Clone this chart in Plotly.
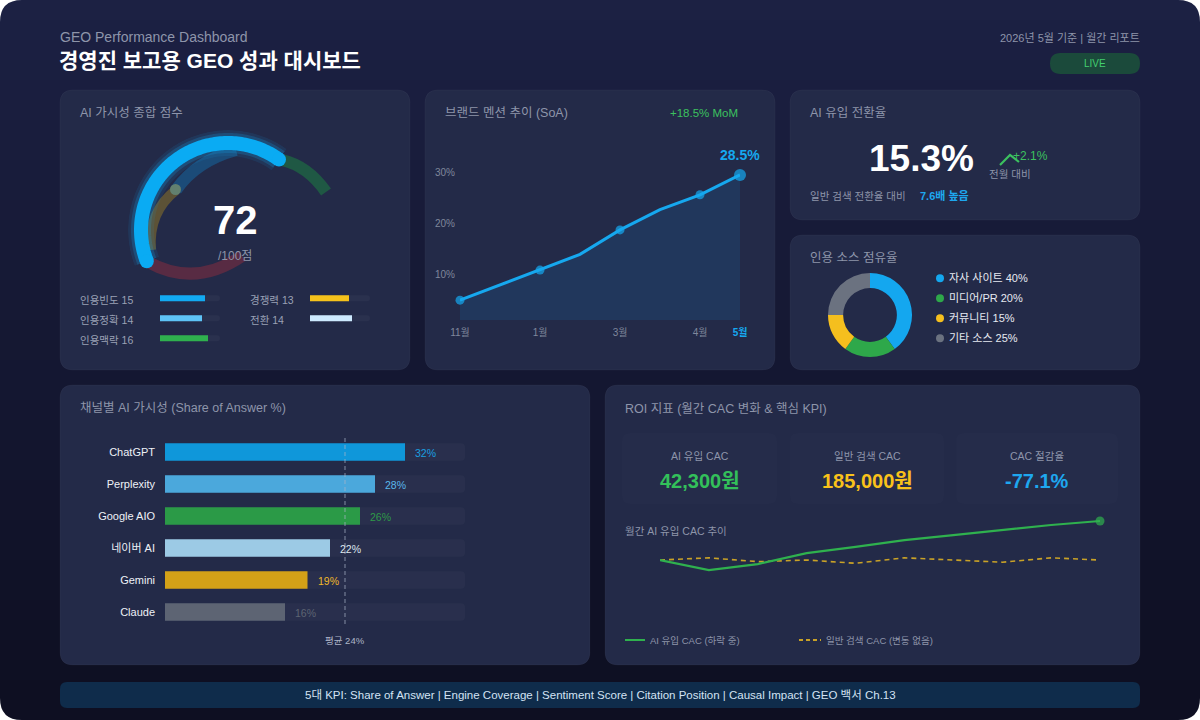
import numpy as np
import plotly.graph_objects as go

W, H = 1200, 720
FONT = "Liberation Sans, Noto Sans CJK KR, sans-serif"

# ---------------- data ----------------
GAUGE_SCORE = 72
GAUGE_MAX = 100

SUB_LEFT_LABELS = ["인용빈도", "인용정확", "인용맥락"]
SUB_LEFT_VALUES = [15, 14, 16]
SUB_RIGHT_LABELS = ["경쟁력", "전환"]
SUB_RIGHT_VALUES = [13, 14]
SUB_MAX = 20

SOA_X = [0, 2, 3, 4, 5, 6, 7]
SOA_VALUES = [3.9, 9.8, 12.9, 17.7, 21.7, 24.6, 28.5]
SOA_MARKED = [True, True, False, True, False, True, True]
SOA_TICK_POS = [0, 2, 4, 6, 7]
SOA_TICK_LABELS = ["11월", "1월", "3월", "4월", "5월"]
SOA_Y_TICKS = [10, 20, 30]
SOA_MOM = "+18.5% MoM"

CONV_RATE = "15.3%"
CONV_DELTA = "+2.1%"
CONV_MULT = "7.6배 높음"

SRC_LABELS = ["자사 사이트", "미디어/PR", "커뮤니티", "기타 소스"]
SRC_VALUES = [40, 20, 15, 25]

CH_NAMES = ["ChatGPT", "Perplexity", "Google AIO", "네이버 AI", "Gemini", "Claude"]
CH_VALUES = [32, 28, 26, 22, 19, 16]
CH_AVG = 24
CH_MAX = 40

KPI_LABELS = ["AI 유입 CAC", "일반 검색 CAC", "CAC 절감율"]
KPI_VALUES = ["42,300원", "185,000원", "-77.1%"]

CAC_MONTH = list(range(10))
CAC_AI = [185, 222, 200, 160, 137, 112, 94, 75, 57, 42.3]      # 천원
CAC_GEN = [185, 177, 191, 185, 197, 177, 185, 193, 177, 185]   # 천원

FOOTER = "5대 KPI: Share of Answer | Engine Coverage | Sentiment Score | Citation Position | Causal Impact | GEO 백서 Ch.13"

# ---------------- styles ----------------
BLUE = "#16a8ef"
GREEN = "#2fb14e"
GREY_T = "#8e95aa"
PANEL = "#232a48"
SUB_LEFT_COLORS = ["#12aaf2", "#5ec4f7", "#2fb14e"]
SUB_RIGHT_COLORS = ["#f5c21b", "#cdeaff"]
SRC_COLORS = ["#14a7ef", "#2ea84a", "#f5bf1e", "#6b7280"]
CH_COLORS = ["#0f97da", "#4ba8dc", "#2b9a47", "#9ccae5", "#d3a117", "#5d6473"]
CH_TEXT_COLORS = ["#1a9fe0", "#5ab8ea", "#2e9a48", "#dfe6ee", "#f0b92a", "#5d6473"]
KPI_COLORS = ["#33c05a", "#f9c21a", "#1ea7ef"]
NOLINE = dict(width=0)


def px(x):
    return x / W


def py(y):
    return 1 - y / H


def P(x, y):
    return f"{px(x):.5f},{py(y):.5f}"


def rrect_path(x0, y0, x1, y1, r):
    return (f"M {P(x0 + r, y0)} L {P(x1 - r, y0)} Q {P(x1, y0)} {P(x1, y0 + r)} "
            f"L {P(x1, y1 - r)} Q {P(x1, y1)} {P(x1 - r, y1)} "
            f"L {P(x0 + r, y1)} Q {P(x0, y1)} {P(x0, y1 - r)} "
            f"L {P(x0, y0 + r)} Q {P(x0, y0)} {P(x0 + r, y0)} Z")


shapes = []
annotations = []


def add_path(path, fill=None, line_color=None, line_width=0, layer="below", dash=None):
    d = dict(type="path", path=path, xref="paper", yref="paper", layer=layer,
             line=dict(width=line_width, color=line_color or "rgba(0,0,0,0)"))
    if dash:
        d["line"]["dash"] = dash
    if fill:
        d["fillcolor"] = fill
    shapes.append(d)


def text(x, y, s, size=12, color=GREY_T, anchor="left", bold=False):
    shift = {"left": -2, "right": 2, "center": 0}[anchor]
    annotations.append(dict(x=px(x), y=py(y), xref="paper", yref="paper",
                            text=f"<b>{s}</b>" if bold else s, showarrow=False,
                            xanchor=anchor, yanchor="middle", xshift=shift,
                            font=dict(size=size, color=color, family=FONT)))


# ---------------- background ----------------
c_top = np.array([28, 33, 67])
c_bot = np.array([14, 15, 34])
NB = 36
for i in range(NB):
    t = i / (NB - 1)
    c = (c_top * (1 - t) + c_bot * t).astype(int)
    y0 = i * H / NB
    y1 = (i + 1) * H / NB + 1
    shapes.append(dict(type="rect", xref="paper", yref="paper", layer="below",
                       x0=0, x1=1, y0=py(min(y1, H)), y1=py(y0),
                       fillcolor=f"rgb({c[0]},{c[1]},{c[2]})", line=NOLINE))
R0 = 22
for (cx, cy, sx, sy) in [(0, 0, 1, 1), (W, 0, -1, 1), (0, H, 1, -1), (W, H, -1, -1)]:
    add_path(f"M {P(cx, cy)} L {P(cx + sx * R0, cy)} Q {P(cx, cy)} {P(cx, cy + sy * R0)} Z",
             fill="#ffffff")

# panels
PANELS = [(60, 90, 410, 370), (425, 90, 775, 370), (790, 90, 1140, 220),
          (790, 235, 1140, 370), (60, 385, 590, 665), (605, 385, 1140, 665)]
for (x0, y0, x1, y1) in PANELS:
    add_path(rrect_path(x0, y0, x1, y1, 13), fill=PANEL,
             line_color="rgba(255,255,255,0.035)", line_width=1)

# footer bar
add_path(rrect_path(60, 682, 1140, 708, 7), fill="#0f2c4b")
text(600, 695, FOOTER, size=11.5, color="#d3e3f4", anchor="center")

# header
text(60, 37, "GEO Performance Dashboard", size=14, color=GREY_T)
text(59, 60, "경영진 보고용 GEO 성과 대시보드", size=21, color="#ffffff", bold=True)
text(1140, 38, "2026년 5월 기준 | 월간 리포트", size=11, color=GREY_T, anchor="right")
add_path(rrect_path(1050, 53, 1140, 74, 10.5), fill="#1b4a3b")
text(1095, 63.5, "LIVE", size=10, color="#43d070", anchor="center")

# panel titles
text(80, 113, "AI 가시성 종합 점수", size=12.5)
text(445, 113, "브랜드 멘션 추이 (SoA)", size=12.5)
text(670, 113, SOA_MOM, size=11.5, color="#3cc15f")
text(810, 113, "AI 유입 전환율", size=12.5)
text(810, 258, "인용 소스 점유율", size=12.5)
text(80, 408, "채널별 AI 가시성 (Share of Answer %)", size=12.5)
text(625, 408, "ROI 지표 (월간 CAC 변화 & 핵심 KPI)", size=12.5)

fig = go.Figure()

# ---------------- panel 1: gauge ----------------
add_path(f"M {P(282, 160)} Q {P(308, 166)} {P(326, 192)}", line_color="#1f5844", line_width=12)
add_path(f"M {P(148, 262)} Q {P(195, 288)} {P(242, 256)}", line_color="#582b43", line_width=12)
add_path(f"M {P(151, 250)} Q {P(148, 212)} {P(176, 190)}", line_color="#5c5236", line_width=10)
add_path(f"M {P(176, 190)} Q {P(196, 161)} {P(236, 150)}", line_color="#1b4b78", line_width=12)
shapes.append(dict(type="circle", xref="paper", yref="paper", layer="below",
                   x0=px(170), x1=px(181), y0=py(195), y1=py(184),
                   fillcolor="#62806f", line=NOLINE))

GAUGE_START = 201
GAUGE_SWEEP = 204
GAUGE_R = 87
theta_end = GAUGE_START - GAUGE_SWEEP * GAUGE_SCORE / GAUGE_MAX
theta = np.linspace(GAUGE_START, theta_end, 120)
for w, col in [(26, "rgba(20,170,245,0.10)"), (20, "rgba(20,170,245,0.20)"), (14, "#0aabf3")]:
    fig.add_trace(go.Scatterpolar(r=[GAUGE_R] * len(theta), theta=theta, mode="lines",
                                  line=dict(color=col, width=w), subplot="polar",
                                  hoverinfo="skip"))
fig.add_trace(go.Scatterpolar(r=[GAUGE_R, GAUGE_R], theta=[GAUGE_START, theta_end],
                              mode="markers", marker=dict(color="#0aabf3", size=14, line=NOLINE),
                              subplot="polar", hoverinfo="skip"))
text(235, 220, str(GAUGE_SCORE), size=40, color="#ffffff", anchor="center", bold=True)
text(235, 256, f"/{GAUGE_MAX}점", size=12, color=GREY_T, anchor="center")

# sub-score bars
TRACK = "rgba(255,255,255,0.035)"
fig.add_trace(go.Bar(x=[SUB_MAX] * 3, y=SUB_LEFT_LABELS, orientation="h", width=0.3,
                     marker=dict(color=TRACK, cornerradius=3, line=NOLINE),
                     xaxis="x5", yaxis="y5", hoverinfo="skip"))
fig.add_trace(go.Bar(x=SUB_LEFT_VALUES, y=SUB_LEFT_LABELS, orientation="h", width=0.3,
                     marker=dict(color=SUB_LEFT_COLORS, cornerradius=3, line=NOLINE),
                     xaxis="x5", yaxis="y5", hoverinfo="skip"))
fig.add_trace(go.Bar(x=[SUB_MAX] * 2, y=SUB_RIGHT_LABELS, orientation="h", width=0.3,
                     marker=dict(color=TRACK, cornerradius=3, line=NOLINE),
                     xaxis="x6", yaxis="y6", hoverinfo="skip"))
fig.add_trace(go.Bar(x=SUB_RIGHT_VALUES, y=SUB_RIGHT_LABELS, orientation="h", width=0.3,
                     marker=dict(color=SUB_RIGHT_COLORS, cornerradius=3, line=NOLINE),
                     xaxis="x6", yaxis="y6", hoverinfo="skip"))
for lab, v in zip(SUB_LEFT_LABELS, SUB_LEFT_VALUES):
    annotations.append(dict(x=px(80), y=lab, xref="paper", yref="y5", text=f"{lab} {v}",
                            showarrow=False, xanchor="left", yanchor="middle", yshift=-2,
                            xshift=-2, font=dict(size=10.5, color="#9aa1b5", family=FONT)))
for lab, v in zip(SUB_RIGHT_LABELS, SUB_RIGHT_VALUES):
    annotations.append(dict(x=px(250), y=lab, xref="paper", yref="y6", text=f"{lab} {v}",
                            showarrow=False, xanchor="left", yanchor="middle", yshift=-2,
                            xshift=-2, font=dict(size=10.5, color="#9aa1b5", family=FONT)))

# ---------------- panel 2: SoA line ----------------
fig.add_trace(go.Scatter(x=SOA_X, y=SOA_VALUES, mode="lines", fill="tozeroy",
                         fillcolor="rgba(20,150,230,0.13)",
                         line=dict(color=BLUE, width=3), xaxis="x2", yaxis="y2",
                         hoverinfo="skip"))
mx = [x for x, m in zip(SOA_X, SOA_MARKED) if m]
my = [v for v, m in zip(SOA_VALUES, SOA_MARKED) if m]
msz = [9] * (len(mx) - 1) + [12]
fig.add_trace(go.Scatter(x=mx, y=my, mode="markers",
                         marker=dict(color=BLUE, size=msz, line=NOLINE),
                         xaxis="x2", yaxis="y2", cliponaxis=False, hoverinfo="skip"))
annotations.append(dict(x=SOA_X[-1], y=SOA_VALUES[-1], xref="x2", yref="y2",
                        text=f"<b>{SOA_VALUES[-1]}%</b>", showarrow=False, yshift=20,
                        font=dict(size=14, color=BLUE, family=FONT)))
soa_ticktext = SOA_TICK_LABELS[:-1] + [f"<b><span style='color:{BLUE}'>{SOA_TICK_LABELS[-1]}</span></b>"]

# ---------------- panel 3: conversion ----------------
text(921, 158, CONV_RATE, size=37, color="#ffffff", anchor="center", bold=True)
add_path(f"M {P(1000, 165)} L {P(1010, 155)} L {P(1019, 162)}", line_color="#3cc15f", line_width=2.2)
text(1030, 156, CONV_DELTA, size=12, color="#3cc15f", anchor="center")
text(1010, 174, "전월 대비", size=10.5, color=GREY_T, anchor="center")
text(810, 196, "일반 검색 전환율 대비", size=10.5, color=GREY_T)
text(920, 196, CONV_MULT, size=11, color="#1ea7ef", bold=True)

# ---------------- panel 4: donut ----------------
fig.add_trace(go.Pie(values=SRC_VALUES, labels=SRC_LABELS, hole=0.64, sort=False,
                     direction="clockwise", rotation=0,
                     marker=dict(colors=SRC_COLORS, line=NOLINE),
                     textinfo="none", hoverinfo="skip", showlegend=False,
                     domain=dict(x=[px(828), px(912)], y=[py(357), py(273)])))
for i, (lab, v, col) in enumerate(zip(SRC_LABELS, SRC_VALUES, SRC_COLORS)):
    yy = 278.3 + 20 * i
    shapes.append(dict(type="circle", xref="paper", yref="paper", layer="below",
                       x0=px(936), x1=px(944), y0=py(yy + 4), y1=py(yy - 4),
                       fillcolor=col, line=NOLINE))
    text(949, yy, f"{lab} {v}%", size=11, color="#e6e9f1")

# ---------------- panel 5: channel bars ----------------
fig.add_trace(go.Bar(x=[CH_MAX] * len(CH_NAMES), y=CH_NAMES, orientation="h", width=0.55,
                     marker=dict(color="rgba(255,255,255,0.028)", cornerradius=4, line=NOLINE),
                     xaxis="x3", yaxis="y3", hoverinfo="skip"))
fig.add_trace(go.Bar(x=CH_VALUES, y=CH_NAMES, orientation="h", width=0.55,
                     marker=dict(color=CH_COLORS, cornerradius=4, line=NOLINE),
                     xaxis="x3", yaxis="y3", hoverinfo="skip"))
for n, v, col in zip(CH_NAMES, CH_VALUES, CH_TEXT_COLORS):
    annotations.append(dict(x=v, y=n, xref="x3", yref="y3", text=f"{v}%", showarrow=False,
                            xanchor="left", yanchor="middle", xshift=8, yshift=-1,
                            font=dict(size=10.5, color=col, family=FONT)))
shapes.append(dict(type="line", xref="x3", yref="paper", x0=CH_AVG, x1=CH_AVG,
                   y0=py(624), y1=py(438), layer="above",
                   line=dict(color="rgba(170,180,200,0.55)", width=1.3, dash="4px,3px")))
annotations.append(dict(x=CH_AVG, y=py(640), xref="x3", yref="paper", text=f"평균 {CH_AVG}%",
                        showarrow=False, xanchor="center", yanchor="middle",
                        font=dict(size=9.5, color="#aeb5c7", family=FONT)))

# ---------------- panel 6: ROI ----------------
KPI_BOXES = [(622, 433, 777, 504), (790, 433, 944, 504), (956, 433, 1118, 504)]
for (x0, y0, x1, y1), lab, val, col in zip(KPI_BOXES, KPI_LABELS, KPI_VALUES, KPI_COLORS):
    add_path(rrect_path(x0, y0, x1, y1, 8), fill="rgba(255,255,255,0.012)")
    cx = (x0 + x1) / 2
    text(cx, 456, lab, size=10.5, color=GREY_T, anchor="center")
    text(cx, 481, val, size=20, color=col, anchor="center", bold=True)
text(625, 531, "월간 AI 유입 CAC 추이", size=10.5, color=GREY_T)

fig.add_trace(go.Scatter(x=CAC_MONTH, y=CAC_GEN, mode="lines",
                         line=dict(color="#c9a227", width=1.6, dash="5px,4px"),
                         xaxis="x4", yaxis="y4", hoverinfo="skip"))
fig.add_trace(go.Scatter(x=CAC_MONTH, y=CAC_AI, mode="lines+markers",
                         line=dict(color=GREEN, width=2.2),
                         marker=dict(size=[0] * (len(CAC_AI) - 1) + [9], color=GREEN, line=NOLINE),
                         xaxis="x4", yaxis="y4", cliponaxis=False, hoverinfo="skip"))
add_path(f"M {P(625, 640)} L {P(645, 640)}", line_color=GREEN, line_width=2, layer="above")
text(650, 640, "AI 유입 CAC (하락 중)", size=9.5, color=GREY_T)
add_path(f"M {P(799, 640)} L {P(821, 640)}", line_color="#c9a227", line_width=2,
         layer="above", dash="4px,3px")
text(826, 640, "일반 검색 CAC (변동 없음)", size=9.5, color=GREY_T)

# ---------------- layout ----------------
hidden = dict(showgrid=False, zeroline=False, showline=False, showticklabels=False, ticks="")
fig.update_layout(
    template="none",
    width=W, height=H, margin=dict(l=0, r=0, t=0, b=0, pad=0),
    paper_bgcolor="#ffffff", plot_bgcolor="rgba(0,0,0,0)",
    showlegend=False, barmode="overlay",
    font=dict(family=FONT),
    shapes=shapes, annotations=annotations,
    polar=dict(domain=dict(x=[px(128), px(328)], y=[py(330), py(130)]),
               bgcolor="rgba(0,0,0,0)",
               radialaxis=dict(visible=False, range=[0, 100]),
               angularaxis=dict(visible=False, rotation=0, direction="counterclockwise")),
    xaxis2=dict(domain=[px(460), px(740)], range=[0, 7], showgrid=False, zeroline=False,
                showline=False, ticks="", tickmode="array", tickvals=SOA_TICK_POS,
                ticktext=soa_ticktext, tickfont=dict(size=10, color="#7f879c"),
                ticklabelstandoff=5, anchor="y2"),
    yaxis2=dict(domain=[py(320), py(150)], range=[0, 33.4], showgrid=False, zeroline=False,
                showline=False, ticks="", tickmode="array", tickvals=SOA_Y_TICKS,
                ticktext=[f"{v}%" for v in SOA_Y_TICKS], ticklabelshift=5,
                tickfont=dict(size=10, color="#7f879c"), ticklabelstandoff=4, anchor="x2"),
    xaxis3=dict(domain=[px(165), px(465)], range=[0, CH_MAX], anchor="y3", **hidden),
    yaxis3=dict(domain=[py(628), py(436)], anchor="x3", showgrid=False, zeroline=False,
                showline=False, ticks="", autorange="reversed", type="category",
                tickfont=dict(size=11, color="#eef1f7"), ticklabelstandoff=9),
    xaxis4=dict(domain=[px(660), px(1100)], range=[0, len(CAC_MONTH) - 1], anchor="y4", **hidden),
    yaxis4=dict(domain=[py(620), py(515)], range=[404.5, 20.3], anchor="x4", **hidden),
    xaxis5=dict(domain=[px(160), px(220)], range=[0, SUB_MAX], anchor="y5", **hidden),
    yaxis5=dict(domain=[py(348.3), py(288.3)], anchor="x5", autorange="reversed",
                type="category", **hidden),
    xaxis6=dict(domain=[px(310), px(370)], range=[0, SUB_MAX], anchor="y6", **hidden),
    yaxis6=dict(domain=[py(328.3), py(288.3)], anchor="x6", autorange="reversed",
                type="category", **hidden),
)

fig.write_html("out.html", config={"displayModeBar": False},
               post_script="document.documentElement.style.margin='0';"
                           "document.body.style.margin='0';"
                           "document.body.style.overflow='hidden';")
